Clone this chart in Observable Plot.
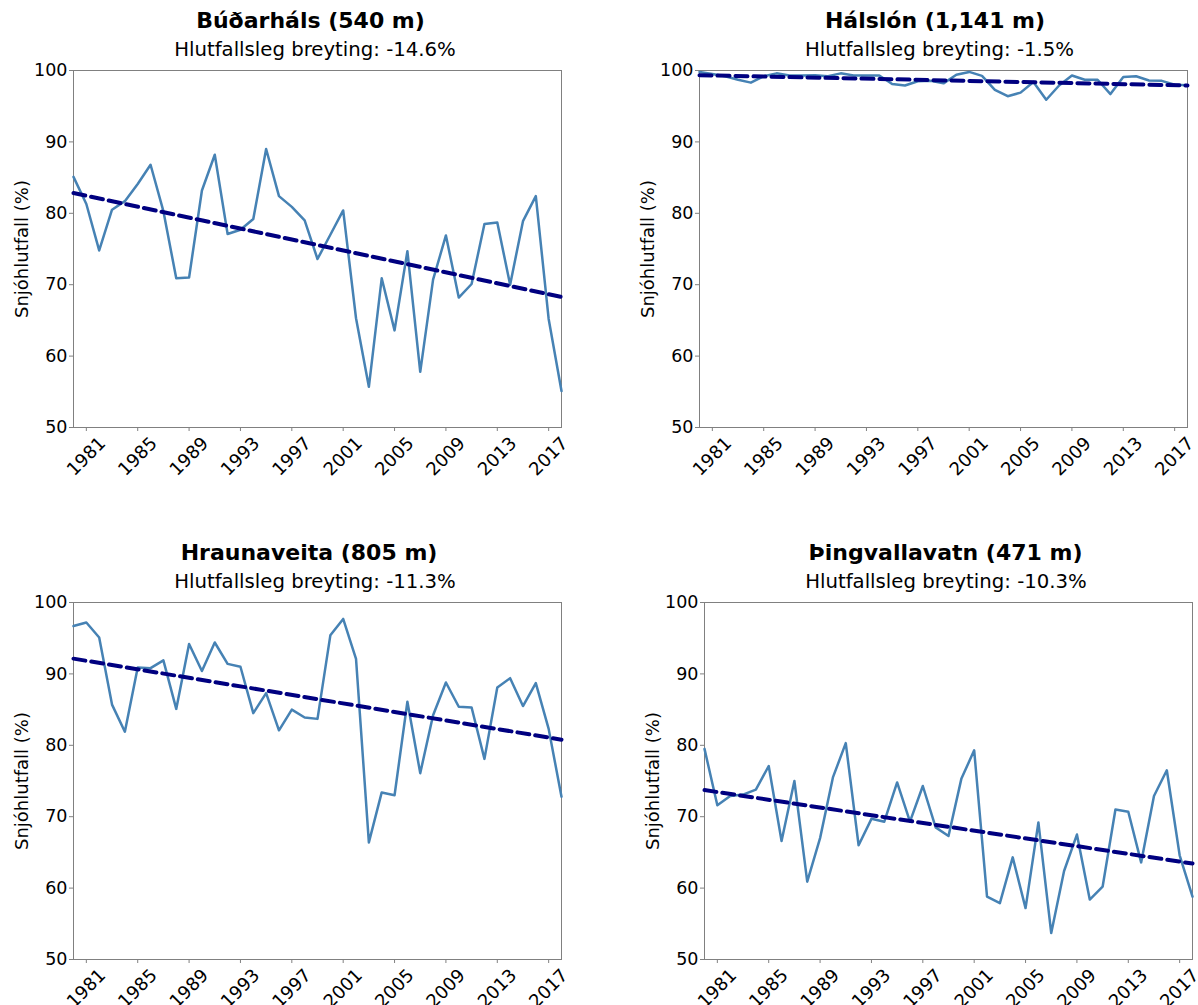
<!DOCTYPE html>
<html><head><meta charset="utf-8">
<script src="https://cdn.jsdelivr.net/npm/d3@7"></script>
<script src="https://cdn.jsdelivr.net/npm/@observablehq/plot@0.6"></script>
<style>
body{margin:0;background:#fff;font-family:"DejaVu Sans",sans-serif;}
#root{position:relative;width:1198px;height:1005px;overflow:hidden;background:#fff;}
.title{position:absolute;font-weight:bold;font-size:22px;line-height:1;white-space:nowrap;transform:translate(-50%,-50%);color:#000;}
.sub{position:absolute;font-size:19.7px;line-height:1;white-space:nowrap;transform:translate(-50%,-50%);color:#000;}
.chart{position:absolute;}
</style></head><body><div id="root"></div>
<script>
const years = [1980,1981,1982,1983,1984,1985,1986,1987,1988,1989,1990,1991,1992,1993,1994,1995,1996,1997,1998,1999,2000,2001,2002,2003,2004,2005,2006,2007,2008,2009,2010,2011,2012,2013,2014,2015,2016,2017,2018];
const xTicks = [1981,1985,1989,1993,1997,2001,2005,2009,2013,2017];
const yTicks = [50,60,70,80,90,100];
const titles = ["Búðarháls (540 m)", "Hálslón (1,141 m)", "Hraunaveita (805 m)", "Þingvallavatn (471 m)"];
const subtitles = ["Hlutfallsleg breyting: -14.6%", "Hlutfallsleg breyting: -1.5%", "Hlutfallsleg breyting: -11.3%", "Hlutfallsleg breyting: -10.3%"];
const yLabel = "Snjóhlutfall (%)";
const budarhals = [85.1,81.3,74.8,80.5,81.7,84.1,86.8,80.3,70.9,71.0,83.2,88.2,77.1,77.7,79.2,89.0,82.4,80.9,79.0,73.6,77.0,80.4,65.3,55.7,70.9,63.6,74.7,57.8,70.7,76.9,68.2,70.1,78.5,78.7,70.0,78.9,82.4,65.2,55.1];
const halslon = [99.8,99.5,99.2,98.7,98.3,99.2,99.6,99.3,99.3,99.35,99.2,99.6,99.3,99.3,99.3,98.1,97.9,98.5,98.55,98.2,99.4,99.8,99.25,97.3,96.4,96.9,98.4,95.9,97.9,99.3,98.7,98.7,96.7,99.1,99.2,98.6,98.55,98.0,97.95];
const hraunaveita = [96.7,97.2,95.1,85.7,81.9,90.9,90.8,91.9,85.1,94.2,90.4,94.4,91.4,91.0,84.5,87.3,82.1,85.0,83.9,83.7,95.4,97.7,92.1,66.4,73.4,73.0,86.1,76.1,84.2,88.8,85.4,85.3,78.1,88.1,89.4,85.5,88.7,82.3,72.8];
const thingvallavatn = [79.5,71.6,72.9,73.1,73.8,77.1,66.6,75.0,60.9,67.0,75.5,80.3,66.0,69.7,69.3,74.8,69.3,74.3,68.5,67.3,75.3,79.3,58.8,57.9,64.3,57.2,69.2,53.7,62.4,67.5,58.4,60.2,71.0,70.7,63.6,72.9,76.5,64.6,58.8];
const series = [budarhals, halslon, hraunaveita, thingvallavatn];

// layout: svg origin, frame box, title centres
const layout = [
  {ox:0,   oy:60,  w:599, h:440, fl:73,  fr:561,  ft:70,  fb:427, tx:310.5, ty:21,  sx:315,   sy:50},
  {ox:599, oy:60,  w:599, h:440, fl:699, fr:1187, ft:70,  fb:427, tx:935,   ty:21,  sx:939.5, sy:50},
  {ox:0,   oy:592, w:599, h:413, fl:73,  fr:561,  ft:602, fb:959, tx:309,   ty:553, sx:315,   sy:582},
  {ox:599, oy:592, w:599, h:413, fl:704, fr:1192, ft:602, fb:959, tx:945.5, ty:553, sx:946,   sy:582}
];

const root = document.getElementById("root");
layout.forEach((L, i) => {
  const data = years.map((year, j) => ({year, value: series[i][j]}));
  const chart = Plot.plot({
    width: L.w, height: L.h,
    marginLeft: L.fl - L.ox, marginRight: L.ox + L.w - L.fr,
    marginTop: L.ft - L.oy, marginBottom: L.oy + L.h - L.fb,
    style: {fontFamily: "DejaVu Sans", fontSize: "17px", overflow: "visible", background: "transparent", color: "black"},
    x: {domain: [1980, 2018]},
    y: {domain: [50, 100]},
    marks: [
      Plot.frame({stroke: "#808080", strokeWidth: 1}),
      Plot.axisY({ticks: yTicks, tickSize: 4, tickPadding: 2, stroke: "#808080", fill: "black", label: null, fontSize: 17.5}),
      Plot.axisX({ticks: xTicks, tickSize: 4, tickFormat: () => "", stroke: "#808080", label: null}),
      Plot.text(xTicks, {x: d => d, frameAnchor: "bottom", dy: 29, rotate: -45, text: d => String(d), fontSize: 18, textAnchor: "middle", lineAnchor: "middle", fill: "black"}),
      Plot.text([yLabel], {frameAnchor: "left", dx: -51, rotate: -90, text: d => d, fontSize: 18, fill: "black", textAnchor: "middle", lineAnchor: "middle"}),
      Plot.line(data, {x: "year", y: "value", stroke: "#4682b4", strokeWidth: 2.5}),
      Plot.linearRegressionY(data, {x: "year", y: "value", ci: 0, stroke: "#000080", strokeWidth: 4, strokeDasharray: "12,6"})
    ]
  });
  chart.classList.add("chart");
  chart.style.left = L.ox + "px";
  chart.style.top = L.oy + "px";
  root.appendChild(chart);
  const t = document.createElement("div");
  t.className = "title"; t.textContent = titles[i];
  t.style.left = L.tx + "px"; t.style.top = L.ty + "px";
  root.appendChild(t);
  const s = document.createElement("div");
  s.className = "sub"; s.textContent = subtitles[i];
  s.style.left = L.sx + "px"; s.style.top = L.sy + "px";
  root.appendChild(s);
});
</script>
</body></html>
